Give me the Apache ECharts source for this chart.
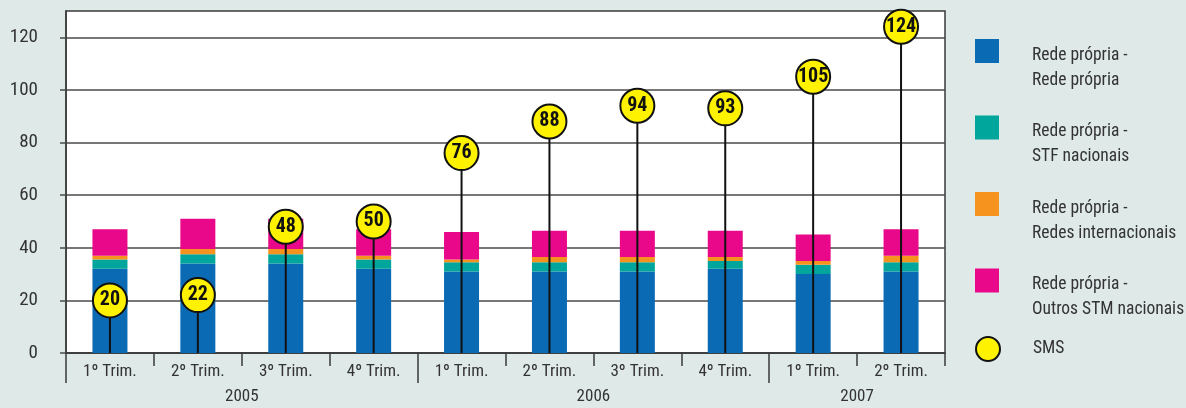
<!DOCTYPE html>
<html>
<head>
<meta charset="utf-8">
<script src="https://cdn.jsdelivr.net/npm/echarts@6/dist/echarts.min.js"></script>
<style>
html,body{margin:0;padding:0;background:#dfeae8;}
#c{width:1186px;height:408px;}
</style>
</head>
<body>
<div id="c"></div>
<script>
const categories = ['1º Trim.', '2º Trim.', '3º Trim.', '4º Trim.', '1º Trim.', '2º Trim.', '3º Trim.', '4º Trim.', '1º Trim.', '2º Trim.'];
const yearLabels = ['', '', '2005', '', '', '', '2006', '', '', '2007', ''];
const yearTickIdx = [0, 4, 8];
const redePropria = [32, 34, 34, 32, 31, 31, 31, 32, 30, 31];
const stfNacionais = [3.5, 3.5, 3.5, 3.5, 3.5, 3.5, 3.5, 3, 3.5, 3.5];
const redesInternacionais = [1.5, 2, 2, 1.5, 1, 2, 2, 1.5, 1.5, 2.5];
const outrosStm = [10, 11.5, 11.5, 10, 10.5, 10, 10, 10, 10, 10];
const sms = [20, 22, 48, 50, 76, 88, 94, 93, 105, 124];
const yTicks = [0, 20, 40, 60, 80, 100, 120];

const FONT = '"Roboto Condensed","Noto Sans",sans-serif';
const names = ['Rede própria -\nRede própria', 'Rede própria -\nSTF nacionais', 'Rede própria -\nRedes internacionais', 'Rede própria -\nOutros STM nacionais'];
const colors = ['#0a6ab4', '#00a59b', '#f6921e', '#e9088a'];
const stacks = [redePropria, stfNacionais, redesInternacionais, outrosStm];

const chart = echarts.init(document.getElementById('c'));
const barSeries = stacks.map((d, i) => ({
  name: names[i], type: 'bar', stack: 'v', xAxisIndex: 0, data: d,
  barWidth: 35, itemStyle: { color: colors[i] }, z: 2
}));
const txt = { fontStyle: 'condensed', fontFamily: FONT, fontSize: 17.5, color: '#333' };

chart.setOption({
  backgroundColor: '#dfeae8',
  animation: false,
  grid: { left: 66, right: 241, top: 11, bottom: 55, show: true, backgroundColor: '#ffffff', borderColor: '#3a3a3a', borderWidth: 1.5 },
  legend: [{
    data: names, orient: 'vertical', left: 975, top: 21, padding: 0,
    itemWidth: 24, itemHeight: 24, itemGap: 8, icon: 'rect', selectedMode: false,
    formatter: (n) => '{e| }\n' + n.split('\n').map(s => '{t|' + s + '}').join('\n'),
    textStyle: Object.assign({}, txt, { padding: [0, 0, 0, 28],
      rich: { e: { lineHeight: 34, fontSize: 10 }, t: Object.assign({}, txt, { lineHeight: 25 }) } })
  }, {
    data: ['SMS'], orient: 'vertical', left: 975, top: 336, padding: 0,
    itemWidth: 24, itemHeight: 24, icon: 'circle', selectedMode: false,
    textStyle: Object.assign({}, txt, { lineHeight: 26, padding: [0, 0, 0, 28] })
  }],
  xAxis: [{
    type: 'category', data: categories, position: 'bottom',
    axisLine: { lineStyle: { color: '#3a3a3a', width: 1.5 } },
    axisTick: { show: true, interval: 0, length: 13, lineStyle: { color: '#3a3a3a', width: 1.5 } },
    axisLabel: { interval: 0, margin: 10, fontStyle: 'condensed', fontFamily: FONT, fontSize: 17, color: '#333' }
  }, {
    type: 'category', data: yearLabels, position: 'bottom', boundaryGap: false,
    axisLine: { show: false },
    axisTick: { show: true, length: 30, interval: (idx) => yearTickIdx.includes(idx), lineStyle: { color: '#3a3a3a', width: 1.5 } },
    axisLabel: { interval: 0, margin: 35, fontStyle: 'condensed', fontFamily: FONT, fontSize: 17, color: '#333' }
  }, {
    type: 'category', data: categories, show: false
  }],
  yAxis: {
    type: 'value', min: 0, max: 130, interval: 20,
    axisLine: { show: true, lineStyle: { color: '#3a3a3a', width: 1.5 } },
    axisTick: { show: true, length: 6, customValues: yTicks, lineStyle: { color: '#4a4a4a', width: 1.5 } },
    axisLabel: { margin: 28, fontStyle: 'condensed', fontFamily: FONT, fontSize: 19, color: '#333',
      formatter: (v) => yTicks.includes(v) ? String(v) : '' },
    splitLine: { show: true, lineStyle: { color: '#4a4a4a', width: 1.5 } }
  },
  series: barSeries.concat([{
    name: 'SMS-stick', type: 'bar', xAxisIndex: 2, data: sms, barWidth: 2,
    itemStyle: { color: '#111' }, z: 3, legendHoverLink: false
  }, {
    name: 'SMS', type: 'scatter', xAxisIndex: 2, data: sms, symbolSize: 34, z: 4,
    itemStyle: { color: '#fff200', borderColor: '#111', borderWidth: 2, opacity: 1 },
    label: { show: true, position: 'inside', formatter: (p) => String(p.value),
      fontStyle: 'condensed', fontFamily: FONT, fontSize: 20, fontWeight: 'bold', color: '#111' }
  }])
});
</script>
</body>
</html>
